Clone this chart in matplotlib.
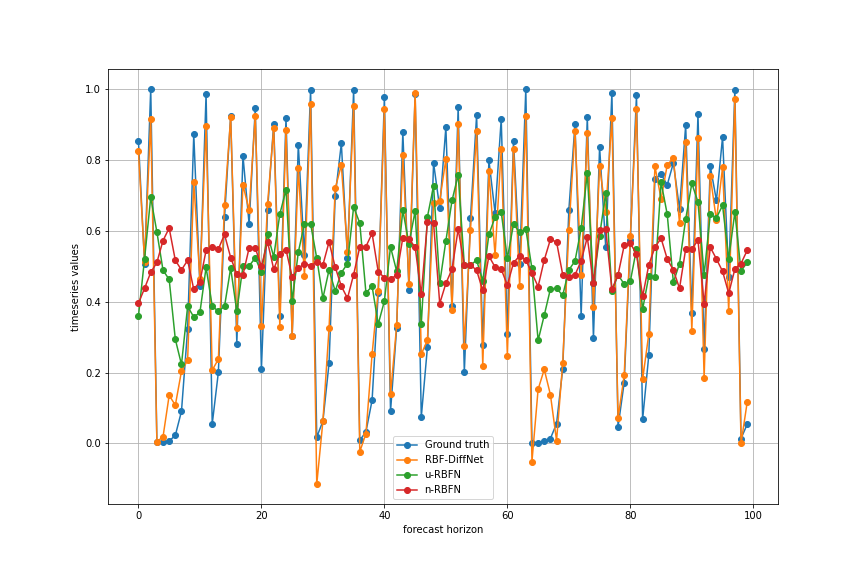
import numpy as np
import matplotlib
matplotlib.use('Agg')
import matplotlib.pyplot as plt

horizon = np.arange(100)

ground_truth = [
    0.854, 0.507, 1.001, 0.005, 0.003, 0.007, 0.023, 0.091, 0.323, 0.873,
    0.444, 0.987, 0.055, 0.201, 0.638, 0.925, 0.282, 0.812, 0.619, 0.946,
    0.210, 0.658, 0.902, 0.360, 0.919, 0.303, 0.843, 0.531, 0.998, 0.018,
    0.063, 0.226, 0.698, 0.847, 0.524, 0.998, 0.009, 0.033, 0.122, 0.425,
    0.977, 0.091, 0.327, 0.879, 0.433, 0.986, 0.074, 0.272, 0.792, 0.664,
    0.893, 0.388, 0.949, 0.201, 0.636, 0.927, 0.277, 0.799, 0.651, 0.916,
    0.309, 0.853, 0.507, 1.001, 0.000, 0.002, 0.007, 0.014, 0.056, 0.210,
    0.659, 0.901, 0.359, 0.922, 0.297, 0.837, 0.554, 0.990, 0.047, 0.172,
    0.575, 0.983, 0.068, 0.249, 0.746, 0.760, 0.730, 0.792, 0.662, 0.898,
    0.368, 0.929, 0.266, 0.783, 0.686, 0.865, 0.471, 0.998, 0.014, 0.054,
]
rbf_diffnet = [
    0.825, 0.513, 0.915, 0.005, 0.019, 0.136, 0.108, 0.204, 0.235, 0.738,
    0.464, 0.896, 0.207, 0.238, 0.673, 0.921, 0.325, 0.730, 0.658, 0.925,
    0.331, 0.676, 0.891, 0.328, 0.885, 0.303, 0.777, 0.472, 0.958, -0.115,
    0.063, 0.325, 0.720, 0.786, 0.540, 0.952, -0.023, 0.028, 0.252, 0.431,
    0.943, 0.139, 0.334, 0.815, 0.450, 0.989, 0.252, 0.292, 0.680, 0.685,
    0.803, 0.376, 0.901, 0.274, 0.602, 0.882, 0.220, 0.768, 0.531, 0.831,
    0.247, 0.831, 0.444, 0.924, -0.051, 0.153, 0.209, 0.138, 0.008, 0.227,
    0.602, 0.882, 0.477, 0.876, 0.384, 0.783, 0.653, 0.919, 0.071, 0.192,
    0.585, 0.944, 0.181, 0.309, 0.783, 0.690, 0.786, 0.806, 0.622, 0.851,
    0.317, 0.863, 0.185, 0.756, 0.630, 0.780, 0.373, 0.973, 0.000, 0.116,
]
u_rbfn = [
    0.359, 0.522, 0.695, 0.597, 0.489, 0.463, 0.294, 0.223, 0.387, 0.357,
    0.370, 0.497, 0.388, 0.373, 0.387, 0.495, 0.373, 0.501, 0.501, 0.524,
    0.483, 0.590, 0.527, 0.648, 0.716, 0.401, 0.540, 0.620, 0.620, 0.523,
    0.410, 0.490, 0.430, 0.482, 0.508, 0.668, 0.622, 0.425, 0.444, 0.337,
    0.402, 0.555, 0.486, 0.658, 0.564, 0.656, 0.337, 0.640, 0.727, 0.452,
    0.572, 0.686, 0.758, 0.504, 0.504, 0.517, 0.460, 0.590, 0.639, 0.653,
    0.523, 0.619, 0.596, 0.605, 0.494, 0.291, 0.362, 0.436, 0.438, 0.418,
    0.490, 0.515, 0.607, 0.763, 0.452, 0.587, 0.707, 0.430, 0.476, 0.450,
    0.458, 0.549, 0.379, 0.472, 0.469, 0.738, 0.647, 0.455, 0.508, 0.633,
    0.734, 0.682, 0.476, 0.647, 0.637, 0.672, 0.521, 0.653, 0.487, 0.511,
]
n_rbfn = [
    0.396, 0.438, 0.483, 0.511, 0.573, 0.608, 0.517, 0.490, 0.517, 0.435,
    0.457, 0.545, 0.556, 0.549, 0.590, 0.525, 0.478, 0.476, 0.552, 0.552,
    0.500, 0.569, 0.492, 0.536, 0.547, 0.470, 0.494, 0.508, 0.502, 0.511,
    0.504, 0.569, 0.498, 0.444, 0.410, 0.477, 0.555, 0.556, 0.593, 0.485,
    0.468, 0.463, 0.476, 0.581, 0.576, 0.555, 0.421, 0.625, 0.622, 0.395,
    0.452, 0.492, 0.605, 0.504, 0.504, 0.489, 0.432, 0.529, 0.498, 0.492,
    0.447, 0.510, 0.530, 0.518, 0.481, 0.443, 0.518, 0.576, 0.569, 0.477,
    0.471, 0.476, 0.515, 0.582, 0.453, 0.602, 0.605, 0.435, 0.476, 0.559,
    0.565, 0.535, 0.415, 0.504, 0.554, 0.579, 0.521, 0.489, 0.438, 0.549,
    0.549, 0.574, 0.395, 0.554, 0.521, 0.486, 0.424, 0.492, 0.508, 0.545,
]

plt.figure(figsize=(12, 8), dpi=72)
plt.subplots_adjust(bottom=0.125, top=0.88)
plt.plot(horizon, ground_truth, marker='o', label='Ground truth')
plt.plot(horizon, rbf_diffnet, marker='o', label='RBF-DiffNet')
plt.plot(horizon, u_rbfn, marker='o', label='u-RBFN')
plt.plot(horizon, n_rbfn, marker='o', label='n-RBFN')
plt.grid(True)
plt.legend(loc='lower center')
plt.xlabel('forecast horizon')
plt.ylabel('timeseries values')
plt.savefig('out.png', dpi=72)
